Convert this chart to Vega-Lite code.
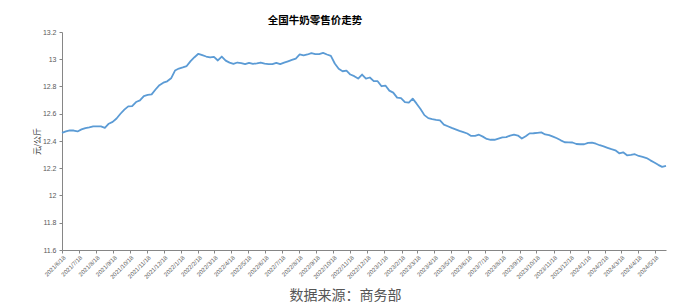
{
  "$schema": "https://vega.github.io/schema/vega-lite/v6.json",
  "autosize": {"type": "none"},
  "width": 604,
  "height": 218,
  "padding": {"left": 62, "top": 32, "right": 13, "bottom": 53},
  "background": "white",
  "config": {"view": {"stroke": null}},
  "title": {
    "text": "全国牛奶零售价走势",
    "font": "Noto Sans CJK SC",
    "fontSize": 10.5,
    "fontWeight": "bold",
    "color": "#000000",
    "anchor": "middle",
    "dx": -49,
    "offset": 2
  },
  "data": {
    "values": [
      {"date": "2021-06-18", "price": 12.46},
      {"date": "2021-06-25", "price": 12.47},
      {"date": "2021-07-02", "price": 12.478},
      {"date": "2021-07-09", "price": 12.477},
      {"date": "2021-07-16", "price": 12.47},
      {"date": "2021-07-23", "price": 12.485},
      {"date": "2021-07-30", "price": 12.495},
      {"date": "2021-08-06", "price": 12.5},
      {"date": "2021-08-13", "price": 12.507},
      {"date": "2021-08-20", "price": 12.507},
      {"date": "2021-08-27", "price": 12.507},
      {"date": "2021-09-03", "price": 12.497},
      {"date": "2021-09-10", "price": 12.527},
      {"date": "2021-09-17", "price": 12.54},
      {"date": "2021-09-24", "price": 12.565},
      {"date": "2021-10-01", "price": 12.6},
      {"date": "2021-10-08", "price": 12.63},
      {"date": "2021-10-15", "price": 12.654},
      {"date": "2021-10-22", "price": 12.656},
      {"date": "2021-10-29", "price": 12.686},
      {"date": "2021-11-05", "price": 12.698},
      {"date": "2021-11-12", "price": 12.73},
      {"date": "2021-11-19", "price": 12.738},
      {"date": "2021-11-26", "price": 12.742},
      {"date": "2021-12-03", "price": 12.778},
      {"date": "2021-12-10", "price": 12.81},
      {"date": "2021-12-17", "price": 12.828},
      {"date": "2021-12-24", "price": 12.838},
      {"date": "2021-12-31", "price": 12.86},
      {"date": "2022-01-07", "price": 12.917},
      {"date": "2022-01-14", "price": 12.932},
      {"date": "2022-01-21", "price": 12.94},
      {"date": "2022-01-28", "price": 12.95},
      {"date": "2022-02-04", "price": 12.986},
      {"date": "2022-02-11", "price": 13.015},
      {"date": "2022-02-18", "price": 13.04},
      {"date": "2022-02-25", "price": 13.03},
      {"date": "2022-03-04", "price": 13.02},
      {"date": "2022-03-11", "price": 13.013},
      {"date": "2022-03-18", "price": 13.018},
      {"date": "2022-03-25", "price": 12.991},
      {"date": "2022-04-01", "price": 13.02},
      {"date": "2022-04-08", "price": 12.99},
      {"date": "2022-04-15", "price": 12.975},
      {"date": "2022-04-22", "price": 12.966},
      {"date": "2022-04-29", "price": 12.976},
      {"date": "2022-05-06", "price": 12.972},
      {"date": "2022-05-13", "price": 12.964},
      {"date": "2022-05-20", "price": 12.974},
      {"date": "2022-05-27", "price": 12.966},
      {"date": "2022-06-03", "price": 12.97},
      {"date": "2022-06-10", "price": 12.976},
      {"date": "2022-06-17", "price": 12.968},
      {"date": "2022-06-24", "price": 12.964},
      {"date": "2022-07-01", "price": 12.964},
      {"date": "2022-07-08", "price": 12.974},
      {"date": "2022-07-15", "price": 12.964},
      {"date": "2022-07-22", "price": 12.975},
      {"date": "2022-07-29", "price": 12.985},
      {"date": "2022-08-05", "price": 12.995},
      {"date": "2022-08-12", "price": 13.005},
      {"date": "2022-08-19", "price": 13.035},
      {"date": "2022-08-26", "price": 13.028},
      {"date": "2022-09-02", "price": 13.035},
      {"date": "2022-09-09", "price": 13.045},
      {"date": "2022-09-16", "price": 13.038},
      {"date": "2022-09-23", "price": 13.038},
      {"date": "2022-09-30", "price": 13.047},
      {"date": "2022-10-07", "price": 13.035},
      {"date": "2022-10-14", "price": 13.025},
      {"date": "2022-10-21", "price": 12.969},
      {"date": "2022-10-28", "price": 12.93},
      {"date": "2022-11-04", "price": 12.912},
      {"date": "2022-11-11", "price": 12.917},
      {"date": "2022-11-18", "price": 12.888},
      {"date": "2022-11-25", "price": 12.876},
      {"date": "2022-12-02", "price": 12.858},
      {"date": "2022-12-09", "price": 12.888},
      {"date": "2022-12-16", "price": 12.858},
      {"date": "2022-12-23", "price": 12.866},
      {"date": "2022-12-30", "price": 12.84},
      {"date": "2023-01-06", "price": 12.839},
      {"date": "2023-01-13", "price": 12.802},
      {"date": "2023-01-20", "price": 12.807},
      {"date": "2023-01-27", "price": 12.77},
      {"date": "2023-02-03", "price": 12.755},
      {"date": "2023-02-10", "price": 12.718},
      {"date": "2023-02-17", "price": 12.715},
      {"date": "2023-02-24", "price": 12.686},
      {"date": "2023-03-03", "price": 12.681},
      {"date": "2023-03-10", "price": 12.711},
      {"date": "2023-03-17", "price": 12.674},
      {"date": "2023-03-24", "price": 12.635},
      {"date": "2023-03-31", "price": 12.59},
      {"date": "2023-04-07", "price": 12.568},
      {"date": "2023-04-14", "price": 12.561},
      {"date": "2023-04-21", "price": 12.555},
      {"date": "2023-04-28", "price": 12.551},
      {"date": "2023-05-05", "price": 12.52},
      {"date": "2023-05-12", "price": 12.508},
      {"date": "2023-05-19", "price": 12.496},
      {"date": "2023-05-26", "price": 12.485},
      {"date": "2023-06-02", "price": 12.474},
      {"date": "2023-06-09", "price": 12.465},
      {"date": "2023-06-16", "price": 12.455},
      {"date": "2023-06-23", "price": 12.437},
      {"date": "2023-06-30", "price": 12.438},
      {"date": "2023-07-07", "price": 12.446},
      {"date": "2023-07-14", "price": 12.432},
      {"date": "2023-07-21", "price": 12.415},
      {"date": "2023-07-28", "price": 12.409},
      {"date": "2023-08-04", "price": 12.409},
      {"date": "2023-08-11", "price": 12.418},
      {"date": "2023-08-18", "price": 12.426},
      {"date": "2023-08-25", "price": 12.428},
      {"date": "2023-09-01", "price": 12.44},
      {"date": "2023-09-08", "price": 12.446},
      {"date": "2023-09-15", "price": 12.44},
      {"date": "2023-09-22", "price": 12.418},
      {"date": "2023-09-29", "price": 12.435},
      {"date": "2023-10-06", "price": 12.456},
      {"date": "2023-10-13", "price": 12.457},
      {"date": "2023-10-20", "price": 12.46},
      {"date": "2023-10-27", "price": 12.463},
      {"date": "2023-11-03", "price": 12.448},
      {"date": "2023-11-10", "price": 12.443},
      {"date": "2023-11-17", "price": 12.432},
      {"date": "2023-11-24", "price": 12.42},
      {"date": "2023-12-01", "price": 12.405},
      {"date": "2023-12-08", "price": 12.391},
      {"date": "2023-12-15", "price": 12.39},
      {"date": "2023-12-22", "price": 12.389},
      {"date": "2023-12-29", "price": 12.378},
      {"date": "2024-01-05", "price": 12.376},
      {"date": "2024-01-12", "price": 12.376},
      {"date": "2024-01-19", "price": 12.386},
      {"date": "2024-01-26", "price": 12.388},
      {"date": "2024-02-02", "price": 12.38},
      {"date": "2024-02-09", "price": 12.369},
      {"date": "2024-02-16", "price": 12.36},
      {"date": "2024-02-23", "price": 12.35},
      {"date": "2024-03-01", "price": 12.34},
      {"date": "2024-03-08", "price": 12.332},
      {"date": "2024-03-15", "price": 12.31},
      {"date": "2024-03-22", "price": 12.317},
      {"date": "2024-03-29", "price": 12.295},
      {"date": "2024-04-05", "price": 12.298},
      {"date": "2024-04-12", "price": 12.303},
      {"date": "2024-04-19", "price": 12.29},
      {"date": "2024-04-26", "price": 12.283},
      {"date": "2024-05-03", "price": 12.275},
      {"date": "2024-05-10", "price": 12.258},
      {"date": "2024-05-17", "price": 12.242},
      {"date": "2024-05-24", "price": 12.225},
      {"date": "2024-05-31", "price": 12.21},
      {"date": "2024-06-07", "price": 12.217}
    ]
  },
  "mark": {"type": "line", "color": "#5B9BD5", "strokeWidth": 1.8, "strokeJoin": "round"},
  "encoding": {
    "x": {
      "field": "date",
      "type": "temporal",
      "scale": {"type": "utc", "domain": [{"year": 2021, "month": 6, "date": 18, "utc": true}, {"year": 2024, "month": 6, "date": 7, "utc": true}], "nice": false},
      "axis": {
        "values": [
          {"year": 2021, "month": 6, "date": 18, "utc": true},
          {"year": 2021, "month": 7, "date": 18, "utc": true},
          {"year": 2021, "month": 8, "date": 18, "utc": true},
          {"year": 2021, "month": 9, "date": 18, "utc": true},
          {"year": 2021, "month": 10, "date": 18, "utc": true},
          {"year": 2021, "month": 11, "date": 18, "utc": true},
          {"year": 2021, "month": 12, "date": 18, "utc": true},
          {"year": 2022, "month": 1, "date": 18, "utc": true},
          {"year": 2022, "month": 2, "date": 18, "utc": true},
          {"year": 2022, "month": 3, "date": 18, "utc": true},
          {"year": 2022, "month": 4, "date": 18, "utc": true},
          {"year": 2022, "month": 5, "date": 18, "utc": true},
          {"year": 2022, "month": 6, "date": 18, "utc": true},
          {"year": 2022, "month": 7, "date": 18, "utc": true},
          {"year": 2022, "month": 8, "date": 18, "utc": true},
          {"year": 2022, "month": 9, "date": 18, "utc": true},
          {"year": 2022, "month": 10, "date": 18, "utc": true},
          {"year": 2022, "month": 11, "date": 18, "utc": true},
          {"year": 2022, "month": 12, "date": 18, "utc": true},
          {"year": 2023, "month": 1, "date": 18, "utc": true},
          {"year": 2023, "month": 2, "date": 18, "utc": true},
          {"year": 2023, "month": 3, "date": 18, "utc": true},
          {"year": 2023, "month": 4, "date": 18, "utc": true},
          {"year": 2023, "month": 5, "date": 18, "utc": true},
          {"year": 2023, "month": 6, "date": 18, "utc": true},
          {"year": 2023, "month": 7, "date": 18, "utc": true},
          {"year": 2023, "month": 8, "date": 18, "utc": true},
          {"year": 2023, "month": 9, "date": 18, "utc": true},
          {"year": 2023, "month": 10, "date": 18, "utc": true},
          {"year": 2023, "month": 11, "date": 18, "utc": true},
          {"year": 2023, "month": 12, "date": 18, "utc": true},
          {"year": 2024, "month": 1, "date": 18, "utc": true},
          {"year": 2024, "month": 2, "date": 18, "utc": true},
          {"year": 2024, "month": 3, "date": 18, "utc": true},
          {"year": 2024, "month": 4, "date": 18, "utc": true},
          {"year": 2024, "month": 5, "date": 18, "utc": true}
        ],
        "labelExpr": "utcFormat(datum.value, '%Y/%-m/%-d')",
        "labelAngle": -45,
        "labelAlign": "right",
        "labelBaseline": "top",
        "labelFont": "Liberation Sans",
        "labelFontSize": 6,
        "labelColor": "#595959",
        "labelPadding": 1,
        "labelOverlap": false,
        "labelBound": false,
        "labelFlush": false,
        "grid": false,
        "tickSize": 3,
        "tickColor": "#868686",
        "domainColor": "#868686",
        "title": "数据来源：商务部",
        "titleFont": "Noto Sans CJK SC",
        "titleFontSize": 14,
        "titleFontWeight": "normal",
        "titleColor": "#555555",
        "titleAnchor": "start",
        "titleAlign": "center",
        "titleBaseline": "top",
        "titleX": 283,
        "titleY": 38
      }
    },
    "y": {
      "field": "price",
      "type": "quantitative",
      "scale": {"domain": [11.6, 13.2], "nice": false, "zero": false},
      "axis": {
        "values": [11.6, 11.8, 12, 12.2, 12.4, 12.6, 12.8, 13, 13.2],
        "format": "~g",
        "labelFont": "Liberation Sans",
        "labelFontSize": 7,
        "labelColor": "#595959",
        "labelPadding": 3,
        "grid": false,
        "tickSize": 3,
        "tickColor": "#868686",
        "domainColor": "#868686",
        "title": "元/公斤",
        "titleFont": "Noto Sans CJK SC",
        "titleFontSize": 8,
        "titleFontWeight": "normal",
        "titleColor": "#333333",
        "titleAngle": -90,
        "titleX": -25,
        "titleY": 109,
        "titleAlign": "center",
        "titleBaseline": "middle"
      }
    }
  }
}
